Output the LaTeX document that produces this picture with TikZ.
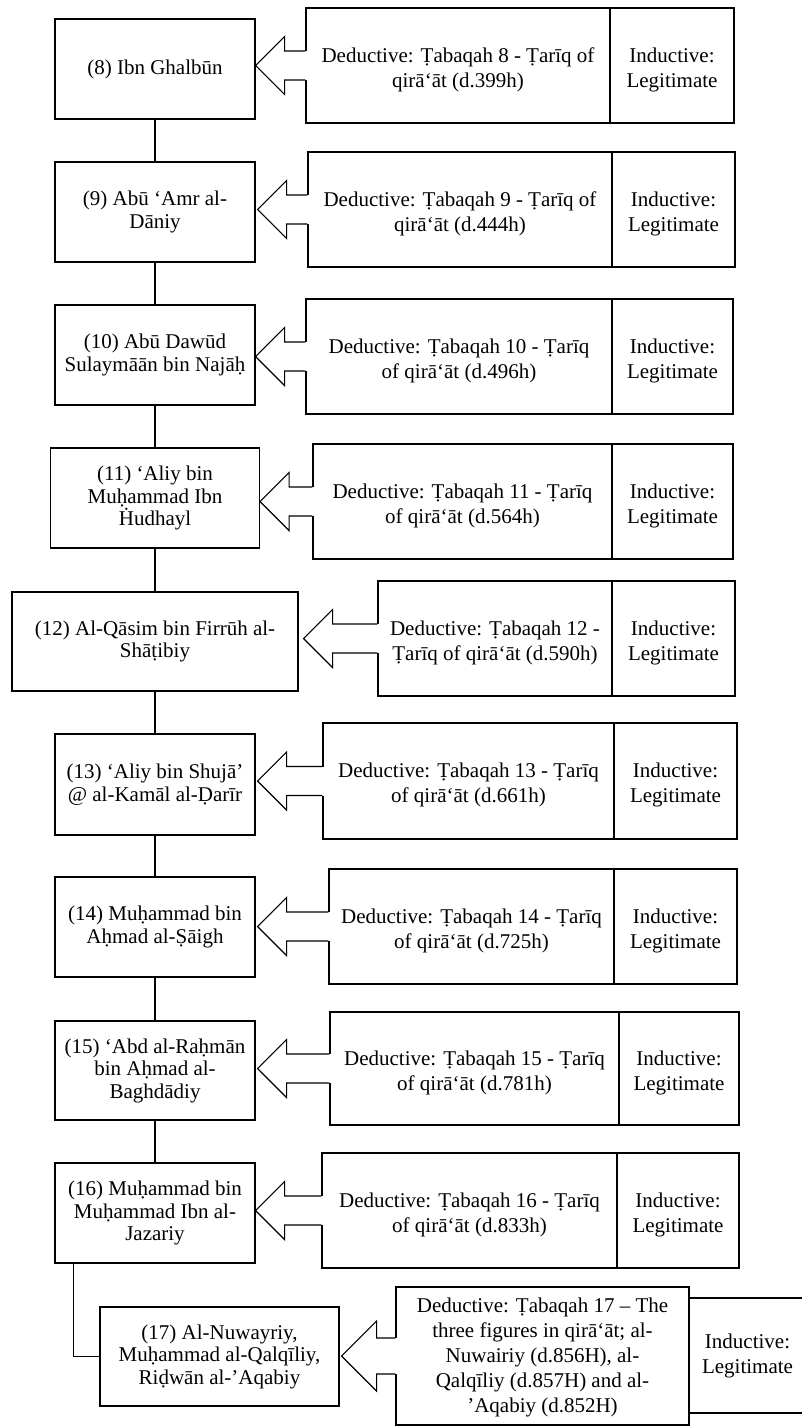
\documentclass[tikz,border=0pt]{standalone}
\usepackage{fontspec}
\setmainfont{Liberation Serif}
\usetikzlibrary{calc}
\newcommand{\blockarr}[5]{%
  \coordinate (base-#1) at (#1.east |- #2.west);
  \coordinate (tip-#1) at ($(base-#1)+(#3,0)$);
  \fill[white] ($(tip-#1)+(#4,-#5)$) rectangle ($(#2.west)+(2,#5)$);
  \draw[arr] ($(#2.west)+(0,-#5)$) -- ($(tip-#1)+(#4,-#5)$) -- ($(tip-#1)+(#4,-#4)$) -- (tip-#1) -- ($(tip-#1)+(#4,#4)$) -- ($(tip-#1)+(#4,#5)$) -- ($(#2.west)+(0,#5)$);
}
% #1 name, #2 x, #3 y, #4 w, #5 h, #6 text shift, #7 text
\newcommand{\rbox}[7]{%
  \node[rframe, wh={#4}{#5}] (#1) at (#2,#3) {};
  \node[rtext] (#1-text) at ($(#1.center)+(0,#6)$) {#7};
}
\begin{document}
\begin{tikzpicture}[x=1pt,y=-1pt,
  lbox/.style={draw, line width=1.2pt, align=center, inner sep=2pt, font=\fontsize{21}{22.5}\selectfont},
  rframe/.style={draw, line width=1.2pt, inner sep=0pt},
  rtext/.style={align=center, inner sep=0pt, font=\fontsize{21}{25}\selectfont},
  wh/.style 2 args={minimum width=#1pt, minimum height=#2pt},
  link/.style={line width=1.2pt},
  arr/.style={line width=1.2pt, line join=miter}]
\useasboundingbox (0,0) rectangle (802,1427);
\clip (0,0) rectangle (802,1427);
\fill[white] (0,0) rectangle (802,1427);

% row 8
\node[lbox, wh={200}{100}] (L8) at (155,69) {(8) Ibn Ghalbūn};
\rbox{D8}{458}{65.5}{304}{115}{4}{Deductive: Ṭabaqah 8 - Ṭarīq of\\qirā‘āt (d.399h)}
\rbox{I8}{672}{65.5}{124}{115}{4}{Inductive:\\Legitimate}
% row 9
\node[lbox, wh={200}{100}] (L9) at (155,212) {(9) Abū ‘Amr al-\\Dāniy};
\rbox{D9}{460}{209.5}{304}{115}{4}{Deductive: Ṭabaqah 9 - Ṭarīq of\\qirā‘āt (d.444h)}
\rbox{I9}{673.5}{209.5}{123}{115}{4}{Inductive:\\Legitimate}
% row 10
\node[lbox, wh={200}{100}] (L10) at (155,355) {(10) Abū Dawūd\\Sulaymāān bin Najāḥ};
\rbox{D10}{459}{356.5}{306}{115}{4}{Deductive: Ṭabaqah 10 - Ṭarīq\\of qirā‘āt (d.496h)}
\rbox{I10}{672.5}{356.5}{121}{115}{4}{Inductive:\\Legitimate}
% row 11
\node[lbox, wh={209}{100}] (L11) at (155,498) {(11) ‘Aliy bin\\Muḥammad Ibn\\Ḣudhayl};
\rbox{D11}{462.5}{501.5}{299}{115}{4}{Deductive: Ṭabaqah 11 - Ṭarīq\\of qirā‘āt (d.564h)}
\rbox{I11}{672.5}{501.5}{121}{115}{4}{Inductive:\\Legitimate}
% row 12
\node[lbox, wh={286}{99}] (L12) at (155,641.5) {(12) Al-Qāsim bin Firrūh al-\\Shāṭibiy};
\rbox{D12}{495}{638.5}{234}{115}{4}{Deductive: Ṭabaqah 12 -\\Ṭarīq of qirā‘āt (d.590h)}
\rbox{I12}{673.5}{638.5}{123}{115}{4}{Inductive:\\Legitimate}
% row 13
\node[lbox, wh={200}{101}] (L13) at (155,784.5) {(13) ‘Aliy bin Shujā’\\@ al-Kamāl al-Ḍarīr};
\rbox{D13}{468.5}{781}{291}{116}{4}{Deductive: Ṭabaqah 13 - Ṭarīq\\of qirā‘āt (d.661h)}
\rbox{I13}{675.5}{781}{123}{116}{4}{Inductive:\\Legitimate}
% row 14
\node[lbox, wh={200}{100}] (L14) at (155,927) {(14) Muḥammad bin\\Aḥmad al-Ṣāigh};
\rbox{D14}{471.5}{926.5}{285}{115}{4}{Deductive: Ṭabaqah 14 - Ṭarīq\\of qirā‘āt (d.725h)}
\rbox{I14}{675.5}{926.5}{123}{115}{4}{Inductive:\\Legitimate}
% row 15
\node[lbox, wh={200}{99}] (L15) at (155,1070.5) {(15) ‘Abd al-Raḥmān\\bin Aḥmad al-\\Baghdādiy};
\rbox{D15}{474.5}{1068.5}{289}{113}{4}{Deductive: Ṭabaqah 15 - Ṭarīq\\of qirā‘āt (d.781h)}
\rbox{I15}{679}{1068.5}{120}{113}{4}{Inductive:\\Legitimate}
% row 16
\node[lbox, wh={200}{100}] (L16) at (155,1213) {(16) Muḥammad bin\\Muḥammad Ibn al-\\Jazariy};
\rbox{D16}{469.5}{1210.5}{295}{115}{4}{Deductive: Ṭabaqah 16 - Ṭarīq\\of qirā‘āt (d.833h)}
\rbox{I16}{678}{1210.5}{122}{115}{4}{Inductive:\\Legitimate}
% row 17
\node[lbox, wh={239}{99}] (L17) at (219.5,1356.5) {(17) Al-Nuwayriy,\\Muḥammad al-Qalqīliy,\\Riḍwān al-’Aqabiy};
\rbox{D17}{542.5}{1356}{293}{138}{1}{Deductive: Ṭabaqah 17 – The\\three figures in qirā‘āt; al-\\Nuwairiy (d.856H), al-\\Qalqīliy (d.857H) and al-\\’Aqabiy (d.852H)}
\rbox{I17}{747.5}{1355.5}{117}{115}{0}{Inductive:\\Legitimate}

% vertical links
\draw[link] (L8.south) -- (L9.north);
\draw[link] (L9.south) -- (L10.north);
\draw[link] (L10.south) -- (L11.north);
\draw[link] (L11.south) -- (L12.north);
\draw[link] (L12.south) -- (L13.north);
\draw[link] (L13.south) -- (L14.north);
\draw[link] (L14.south) -- (L15.north);
\draw[link] (L15.south) -- (L16.north);
\draw[link] ($(L16.south west)+(19,0)$) |- (L17.west);

% block arrows
\blockarr{L8}{D8}{0}{29}{14.5}
\blockarr{L9}{D9}{2}{29}{14.5}
\blockarr{L10}{D10}{0}{29}{14.5}
\blockarr{L11}{D11}{0}{29}{14.5}
\blockarr{L12}{D12}{5}{29}{14.5}
\blockarr{L13}{D13}{2}{29}{14.5}
\blockarr{L14}{D14}{2}{29}{14.5}
\blockarr{L15}{D15}{2}{29}{14.5}
\blockarr{L16}{D16}{0}{29}{14.5}
\blockarr{L17}{D17}{2}{35}{18}
\end{tikzpicture}
\end{document}
